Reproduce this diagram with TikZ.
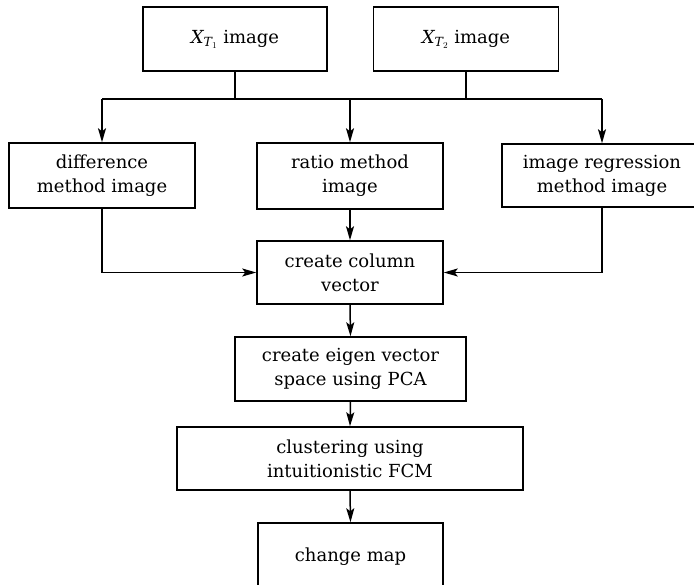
\documentclass[tikz,border=0pt]{standalone}
\usepackage{fontspec}
\setmainfont{DejaVu Serif}
\usetikzlibrary{arrows.meta}
\begin{document}
\begin{tikzpicture}[x=1pt,y=-1pt,
  box/.style={draw, line width=1.5pt, align=center, inner sep=0pt,
    font=\fontsize{18}{24}\selectfont},
  conn/.style={line width=1.5pt},
  arr/.style={conn, -{Stealth[length=14pt,width=8pt,inset=3pt]}}]
\clip (0,0) rectangle (694,585);
\node[box, minimum width=184pt, minimum height=64pt] (t1) at (235,39) {$\mathit{X}_{\mathit{T}_1}$ image};
\node[box, minimum width=185pt, minimum height=64pt] (t2) at (466,39) {$\mathit{X}_{\mathit{T}_2}$ image};
\node[box, minimum width=186pt, minimum height=65pt] (diff) at (102,175.5) {difference\\method image};
\node[box, minimum width=186pt, minimum height=66pt] (ratio) at (350,176) {ratio method\\image};
\node[box, minimum width=200pt, minimum height=63pt] (regr) at (602,175.5) {image regression\\method image};
\node[box, minimum width=186pt, minimum height=63pt] (col) at (350,272.5) {create column\\vector};
\node[box, minimum width=231pt, minimum height=64pt] (eig) at (350.5,369) {create eigen vector\\space using PCA};
\node[box, minimum width=346pt, minimum height=63pt] (clus) at (350,458.5) {clustering using\\intuitionistic FCM};
\node[box, minimum width=185pt, minimum height=68pt] (map) at (350.5,557) {change map};
\coordinate (bl) at (102,99);
\coordinate (bm) at (350,99);
\coordinate (br) at (602,99);
\draw[conn] (t1.south) -- (t1.south |- bl);
\draw[conn] (t2.south) -- (t2.south |- bl);
\draw[conn] (bl) -- (br);
\draw[arr] (bl) -- (diff.north);
\draw[arr] (bm) -- (ratio.north);
\draw[arr] (br) -- (regr.north);
\draw[arr] (diff.south) |- (col.west);
\draw[arr] (regr.south) |- (col.east);
\draw[arr] (ratio.south) -- (col.north);
\draw[arr] (col.south) -- (eig.north);
\draw[arr] (eig.south) -- (clus.north);
\draw[arr] (clus.south) -- (map.north);
\end{tikzpicture}
\end{document}
